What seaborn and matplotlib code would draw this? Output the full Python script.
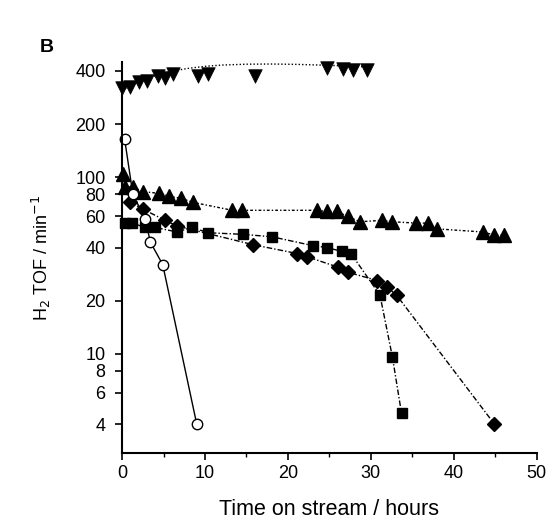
import matplotlib
matplotlib.use("Agg")
import matplotlib.pyplot as plt
import seaborn as sns
import numpy as np
import pandas as pd
from matplotlib.ticker import FixedLocator, NullLocator, MultipleLocator

sns.set_theme(style="ticks")
plt.rcParams['font.family'] = ['Liberation Sans', 'DejaVu Sans']
plt.rcParams['text.color'] = 'black'
plt.rcParams['axes.labelcolor'] = 'black'

# ▼ series
inv_x = [0.0, 1.0, 2.0, 3.0, 4.3, 5.2, 6.1, 9.2, 10.4, 16.0, 24.7, 26.6, 27.8, 29.5]
inv_y = [320, 325, 345, 350, 375, 365, 385, 375, 385, 375, 415, 410, 405, 405]
# fitted dotted curve through ▼ series
fit_x = [0, 1, 2, 3, 4, 5, 6, 8, 10, 12, 15, 18, 21, 24, 27, 30]
fit_y = [312, 330, 348, 362, 376, 388, 399, 414, 425, 432, 437, 438, 436, 432, 427, 421]
# ▲ series
tri_x = [0.1, 0.4, 1.3, 2.5, 4.5, 5.7, 7.1, 8.6, 13.3, 14.5, 23.5, 24.7, 25.9, 27.2,
         28.7, 31.3, 32.5, 35.5, 36.9, 38.0, 43.5, 44.9, 46.0]
tri_y = [105, 88, 88, 83, 81, 78, 76, 72, 65, 65, 65, 64, 64, 60,
         56, 57, 56, 55, 55, 51, 49, 47, 47]
# ■ series
sq_x = [0.3, 1.2, 2.8, 4.0, 6.6, 8.4, 10.4, 14.6, 18.1, 23.0, 24.7, 26.5, 27.6, 31.1, 32.6, 33.7]
sq_y = [55, 55, 52, 52, 49, 52, 48.5, 47.5, 46, 41, 40, 38, 37, 21.5, 9.6, 4.6]
# ◆ series
dia_x = [1.0, 2.5, 5.2, 6.6, 15.8, 21.1, 22.3, 26.0, 27.2, 30.8, 31.9, 33.1, 44.9]
dia_y = [72, 66, 57, 53, 41.5, 37, 35.5, 31, 29, 26, 24, 21.5, 4]
# ○ series
circ_x = [0.3, 1.3, 2.8, 3.4, 4.9, 9.0]
circ_y = [165, 80, 58, 43, 32, 4]

yticks = [4, 6, 8, 10, 20, 40, 60, 80, 100, 200, 400]
ytick_labels = ['4', '6', '8', '10', '20', '40', '60', '80', '100', '200', '400']
xticks = [0, 10, 20, 30, 40, 50]

fig = plt.figure(figsize=(5.55, 5.25), dpi=100)
ax = fig.add_axes([0.22, 0.137, 0.747, 0.745])

def draw(xs, ys, marker, ls, ms, mfc='black', lw=1.0):
    df = pd.DataFrame({'x': xs, 'y': ys})
    sns.lineplot(data=df, x='x', y='y', ax=ax, sort=False, estimator=None,
                 color='black', linestyle=ls, linewidth=lw, marker=marker,
                 markersize=ms, markerfacecolor=mfc, markeredgecolor='black',
                 markeredgewidth=1.0, clip_on=False)

df_fit = pd.DataFrame({'x': fit_x, 'y': fit_y})
sns.lineplot(data=df_fit, x='x', y='y', ax=ax, sort=False, estimator=None,
             color='black', linestyle=(0, (1, 1.5)), linewidth=1.0)
sns.scatterplot(x=inv_x, y=inv_y, ax=ax, marker='v', s=95, color='black',
                edgecolor='black', linewidth=0.5, clip_on=False)
draw(tri_x, tri_y, '^', (0, (2, 1.5, 1, 1.5)), 9.5)
draw(sq_x, sq_y, 's', (0, (4, 1.5, 1, 1.5)), 7.5)
draw(dia_x, dia_y, 'D', (0, (4, 1.5, 1, 1.5)), 7)
draw(circ_x, circ_y, 'o', '-', 7.5, mfc='white')

ax.set_yscale('log')
ax.set_ylim(2.74, 450)
ax.set_xlim(0, 50)
ax.yaxis.set_major_locator(FixedLocator(yticks))
ax.yaxis.set_minor_locator(NullLocator())
ax.set_yticklabels(ytick_labels)
ax.set_xticks(xticks)
ax.xaxis.set_minor_locator(MultipleLocator(5))
ax.tick_params(axis='both', which='major', direction='out', length=5, width=1.2,
               labelsize=13, color='black', labelcolor='black')
ax.tick_params(axis='y', which='major', pad=7)
ax.tick_params(axis='x', which='minor', direction='out', length=3, width=1.0, color='black')
for side in ['top', 'right']:
    ax.spines[side].set_visible(False)
for side in ['left', 'bottom']:
    ax.spines[side].set_linewidth(1.5)
    ax.spines[side].set_color('black')

ax.set_xlabel('Time on stream / hours', fontsize=15.5, labelpad=12)
ax.set_ylabel(r'H$_2$ TOF / min$^{-1}$', fontsize=13, labelpad=16)
fig.text(0.072, 0.9, 'B', fontsize=14, fontweight='bold', color='black')

fig.savefig('out.png', dpi=100)
